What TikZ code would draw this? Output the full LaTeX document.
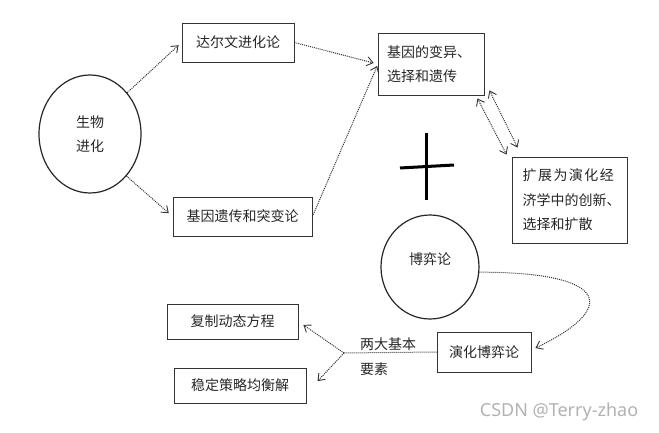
\documentclass[tikz,border=0pt]{standalone}
\usepackage{fontspec}
\setmainfont{Noto Sans CJK SC}
\newfontfamily\wmfont{Noto Sans}
\usetikzlibrary{arrows.meta,shapes.geometric}
\begin{document}
\begin{tikzpicture}[x=1pt,y=-1pt,
  txt/.style={font=\fontsize{14}{24.5}\selectfont, text=black!85},
  box/.style={txt, draw=black!80, line width=0.9pt, inner sep=0pt, minimum width=#1},
  oval/.style={txt, draw=black!85, line width=1.2pt, ellipse, inner sep=0pt},
  tip/.tip={Straight Barb[length=6pt,width=9pt,line width=0.9pt]},
  conn/.style={densely dotted, line width=1pt, draw=black!80, -tip},
  conn2/.style={densely dotted, line width=1pt, draw=black!80, tip-tip},
  link/.style={densely dotted, line width=1pt, draw=black!80},
  plusbar/.style={line width=3pt, draw=black},
]
\useasboundingbox (0,0) rectangle (659,433);

\node[oval, minimum width=102pt, minimum height=118pt, align=center] (bio) at (90,134) {生物\\进化};
\node[box=112pt, minimum height=39pt] (darwin) at (238,42.5) {达尔文进化论};
\node[box=139pt, minimum height=39pt] (genmut) at (242.5,216.5) {基因遗传和突变论};
\node[box=106pt, minimum height=62pt, text width=88pt, inner xsep=9pt, align=left] (gvar) at (431,64) {基因的变异、\\选择和遗传};
\node[box=115pt, minimum height=86pt, text width=94pt, inner xsep=10.5pt, align=left] (expand) at (569.5,200) {扩\hspace{1.5pt}展\hspace{1.5pt}为\hspace{1.5pt}演\hspace{1.5pt}化\hspace{1.5pt}经\\济学中的创新、\\选择和扩散};
\node[oval, minimum width=98pt, minimum height=104pt] (game) at (430,267) {\raisebox{8pt}[\height][\depth]{博弈论}};
\node[box=94pt, minimum height=40pt] (egt) at (484,352) {演化博弈论};
\node[box=131pt, minimum height=35pt] (replic) at (232.5,321.5) {复制动态方程};
\node[box=132pt, minimum height=35pt] (stable) at (240,385.5) {稳定策略均衡解};
\node[txt, anchor=west, align=left, inner sep=0pt] (two) at (360,356.5) {两大基本\\要素};
\node[font=\wmfont\fontsize{18}{20}\selectfont, text=black!30, inner sep=0pt] (wm) at (559,412) {CSDN @Terry-zhao};

\coordinate (j) at (344,353);

% plus sign
\draw[plusbar] (426,133) -- (426,200);
\draw[plusbar] (400,168) -- (454,165);

\draw[conn, shorten >=4pt] (bio.48) -- (darwin.west);
\draw[conn, shorten >=5pt] (bio.-49) -- (genmut.west);
\draw[conn, shorten >=4pt] (darwin.east) -- (gvar.west);
\draw[conn, shorten >=1pt] (genmut.east) -- ([yshift=-1pt]gvar.west);
\draw[conn2] ([xshift=-7pt,yshift=-3pt]gvar.south east) -- ([xshift=-5pt,yshift=2pt]expand.north west);
\draw[conn2] ([xshift=5pt,yshift=5pt]gvar.south east) -- ([xshift=6pt,yshift=9pt]expand.north west);
\draw[conn] (game.-6) .. controls +(135,0) and +(80,-38) .. ([xshift=4pt,yshift=4pt]egt.east);
\draw[link] (egt.west) -- (j);
\draw[conn, shorten >=6pt] (j) -- (replic.east);
\draw[conn, shorten >=6pt] (j) -- ([xshift=7pt]stable.east);
\end{tikzpicture}
\end{document}
